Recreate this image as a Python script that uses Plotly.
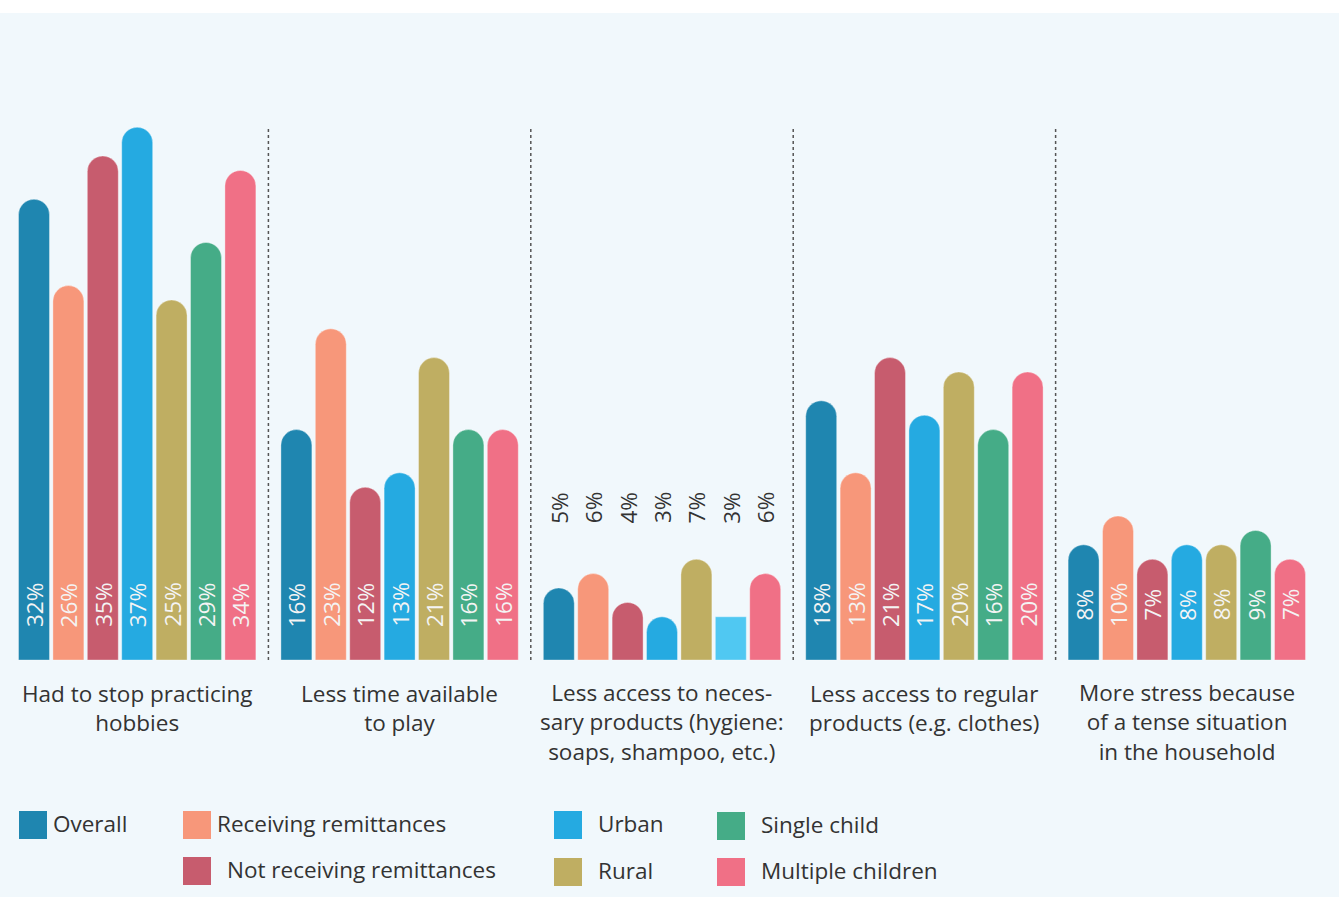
import plotly.graph_objects as go

categories = [
    "Had to stop practicing<br>hobbies",
    "Less time available<br>to play",
    "Less access to neces-<br>sary products (hygiene:<br>soaps, shampoo, etc.)",
    "Less access to regular<br>products (e.g. clothes)",
    "More stress because<br>of a tense situation<br>in the household",
]
series_names = ["Overall", "Receiving remittances", "Not receiving remittances",
                "Urban", "Rural", "Single child", "Multiple children"]
overall = [32, 16, 5, 18, 8]
receiving = [26, 23, 6, 13, 10]
not_receiving = [35, 12, 4, 21, 7]
urban = [37, 13, 3, 17, 8]
rural = [25, 21, 7, 20, 8]
single_child = [29, 16, 3, 16, 9]
multiple_children = [34, 16, 6, 20, 7]
series_values = [overall, receiving, not_receiving, urban, rural, single_child, multiple_children]

colors = ["#1f86b0", "#f7977a", "#c75c6e", "#25aae1", "#bfae62", "#45ac87", "#f07086"]
special_color = "#50c8f2"       # the odd square bar (Single child, 3rd category)
special = (5, 2)                 # (series index, category index)
label_above = [False, False, True, False, False]

BG = "#f1f8fc"
TXT = "#333333"
FONT = "Open Sans"
FS = 22.5

W, H = 1339, 897
TOP = 13
GP = 7.628          # group pitch in bar units
PITCH = 34.4        # px per bar unit
X0PX = 34           # px of first bar centre
BASE_PX = 660
PXPER = 14.4        # px per percent

xr = [(0 - X0PX) / PITCH, (W - X0PX) / PITCH]
yr = [(BASE_PX - H) / PXPER, (BASE_PX - TOP) / PXPER]


def px(x):
    return x / W


def py(y):
    return (H - y) / (H - TOP)


fig = go.Figure()
for si, (name, vals, col) in enumerate(zip(series_names, series_values, colors)):
    xs, ys = [], []
    for g, v in enumerate(vals):
        if (si, g) == special:
            continue
        xs.append(g * GP + si)
        ys.append(v)
    fig.add_trace(go.Bar(x=xs, y=ys, width=0.9, name=name, showlegend=False,
                         marker=dict(color=col, cornerradius="50%",
                                     line=dict(width=1, color="rgba(255,255,255,0.35)")),
                         hoverinfo="y"))
    if special[0] == si:
        g = special[1]
        fig.add_trace(go.Bar(x=[g * GP + si], y=[vals[g]], width=0.9, name=name,
                             showlegend=False,
                             marker=dict(color=special_color, cornerradius=0,
                                         line=dict(width=1, color="rgba(255,255,255,0.35)")),
                             hoverinfo="y"))

annotations = []
for si, vals in enumerate(series_values):
    for g, v in enumerate(vals):
        x = g * GP + si
        if label_above[g]:
            annotations.append(dict(x=x, y=(BASE_PX - 508) / PXPER, xref="x", yref="y",
                                    text=f"{v}%", textangle=-90, showarrow=False,
                                    font=dict(family=FONT, size=FS, color=TXT),
                                    xanchor="center", yanchor="middle"))
        else:
            annotations.append(dict(x=x, y=(BASE_PX - 605) / PXPER, xref="x", yref="y",
                                    text=f"{v}%", textangle=-90, showarrow=False,
                                    font=dict(family=FONT, size=FS, color="#f4f4f4"),
                                    xanchor="center", yanchor="middle"))

for g, cat in enumerate(categories):
    n = len(cat.split("<br>"))
    centre_px = 695 + 26.5 * (n - 1) / 2
    annotations.append(dict(x=g * GP + 3, y=(BASE_PX - centre_px) / PXPER,
                            xref="x", yref="y",
                            text=cat, showarrow=False, align="center",
                            font=dict(family=FONT, size=FS, color=TXT),
                            xanchor="center", yanchor="middle"))

shapes = []
# dotted separators
for g in range(4):
    xs = g * GP + 6 + (GP - 6) / 2
    shapes.append(dict(type="line", xref="x", yref="y", x0=xs, x1=xs, y0=0, y1=37,
                       line=dict(color="#555555", width=1.5, dash="dot")))

# legend (pixel layout)
legend_items = [
    (0, 19, 811, 53),
    (1, 183, 811, 217),
    (2, 183, 857, 227),
    (3, 554, 811, 598),
    (4, 554, 858, 598),
    (5, 717, 812, 761),
    (6, 717, 858, 761),
]
for si, lx, ly, tx in legend_items:
    shapes.append(dict(type="rect", xref="paper", yref="paper",
                       x0=px(lx), x1=px(lx + 28), y0=py(ly + 28), y1=py(ly),
                       fillcolor=colors[si], line=dict(width=0)))
    annotations.append(dict(x=px(tx - 2), y=py(ly + 12), xref="paper", yref="paper",
                            text=series_names[si], showarrow=False,
                            font=dict(family=FONT, size=FS, color=TXT),
                            xanchor="left", yanchor="middle"))

fig.update_layout(
    width=W, height=H,
    margin=dict(l=0, r=0, t=TOP, b=0),
    paper_bgcolor="white",
    plot_bgcolor=BG,
    barmode="overlay",
    xaxis=dict(range=xr, visible=False, fixedrange=True),
    yaxis=dict(range=yr, visible=False, fixedrange=True),
    annotations=annotations,
    shapes=shapes,
    showlegend=False,
    font=dict(family=FONT),
)

fig.write_html("out.html", config={"displayModeBar": False},
               post_script="document.body.style.margin='0';document.body.style.overflow='hidden';")
